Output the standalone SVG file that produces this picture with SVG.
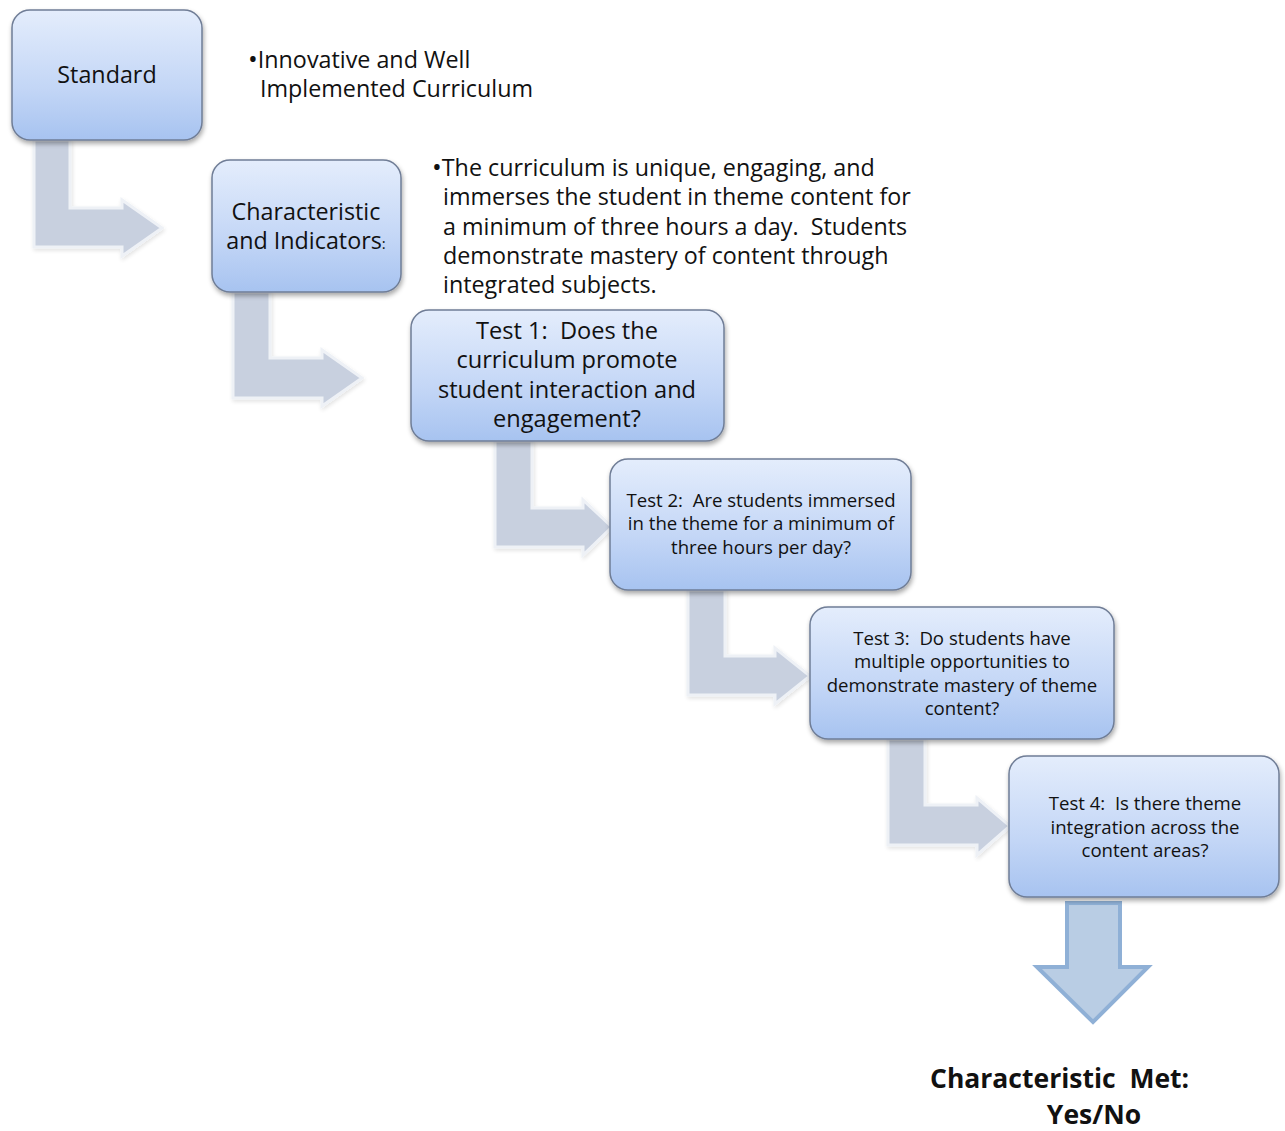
<svg xmlns="http://www.w3.org/2000/svg" width="1285" height="1131" viewBox="0 0 1285 1131">
<defs>
<linearGradient id="g" x1="0" y1="0" x2="0" y2="1">
<stop offset="0" stop-color="#e4edfc"/>
<stop offset="0.6" stop-color="#c3d6f6"/>
<stop offset="1" stop-color="#a7c3f0"/>
</linearGradient>
<filter id="sh" x="-10%" y="-10%" width="125%" height="130%">
<feGaussianBlur in="SourceAlpha" stdDeviation="2.5"/>
<feOffset dx="1" dy="3"/>
<feComponentTransfer><feFuncA type="linear" slope="0.35"/></feComponentTransfer>
<feMerge><feMergeNode/><feMergeNode in="SourceGraphic"/></feMerge>
</filter>
<filter id="ash" x="-10%" y="-10%" width="125%" height="130%">
<feGaussianBlur in="SourceAlpha" stdDeviation="2"/>
<feOffset dx="1" dy="2"/>
<feComponentTransfer><feFuncA type="linear" slope="0.12"/></feComponentTransfer>
<feMerge><feMergeNode/><feMergeNode in="SourceGraphic"/></feMerge>
</filter>
</defs>
<style>
.box{fill:url(#g);stroke:#6f7d96;stroke-width:1.5;filter:url(#sh)}
.arr{fill:#c8d0df;stroke:#eef1f6;stroke-width:3;filter:url(#ash)}
.t{font-family:"Open Sans","Liberation Sans",sans-serif;fill:#111;white-space:pre}
.c{text-anchor:middle}
.m{font-size:23.3px}
.s{font-size:18.6px}
</style>
<rect width="1285" height="1131" fill="#fff"/>
<g id="connectors">
<path class="arr" d="M34,140 H70 V208 H122 V200 L162,228 L122,256 V247 H34 Z"/>
<path class="arr" d="M233,292 H270 V358 H322 V350 L362,378 L322,406 V398 H233 Z"/>
<path class="arr" d="M495,441 H532 V508 H583 V500 L612,527 L583,555 V547 H495 Z"/>
<path class="arr" d="M688,590 H725 V656 H775 V648 L810,676 L775,704 V695 H688 Z"/>
<path class="arr" d="M888,739 H925 V805 H977 V798 L1010,826 L977,855 V845 H888 Z"/>
<path d="M1067,903 H1120 V967 H1148 L1093,1022 L1037,967 H1067 Z" fill="#b9cde4" stroke="#8fb0d6" stroke-width="4" stroke-linejoin="miter"/>
</g>
<g id="standard">
<rect class="box" x="12" y="10" width="190" height="130" rx="18"/>
<text class="t c m" x="107" y="83">Standard</text>
</g>
<g id="standard-text">
<text class="t m" x="248" y="68"><tspan font-size="26">•</tspan>Innovative and Well</text>
<text class="t m" x="260" y="97">Implemented Curriculum</text>
</g>
<g id="characteristic">
<rect class="box" x="212" y="160" width="189" height="132" rx="18"/>
<text class="t c m" x="306" y="220">Characteristic</text>
<text class="t c m" x="306" y="249">and Indicators<tspan font-size="15">:</tspan></text>
</g>
<g id="characteristic-text">
<text class="t m" x="432" y="176"><tspan font-size="26">•</tspan>The curriculum is unique, engaging, and</text>
<text class="t m" x="443" y="205">immerses the student in theme content for</text>
<text class="t m" x="443" y="235">a minimum of three hours a day.  Students</text>
<text class="t m" x="443" y="264">demonstrate mastery of content through</text>
<text class="t m" x="443" y="293">integrated subjects.</text>
</g>
<g id="test1">
<rect class="box" x="411" y="310" width="313" height="131" rx="18"/>
<text class="t c" x="567" y="339" font-size="23.6">Test 1:  Does the</text>
<text class="t c" x="567" y="368" font-size="23.6">curriculum promote</text>
<text class="t c" x="567" y="398" font-size="23.6">student interaction and</text>
<text class="t c" x="567" y="427" font-size="23.6">engagement?</text>
</g>
<g id="test2">
<rect class="box" x="610" y="459" width="301" height="131" rx="18"/>
<text class="t c s" x="761" y="507">Test 2:  Are students immersed</text>
<text class="t c s" x="761" y="530">in the theme for a minimum of</text>
<text class="t c s" x="761" y="554">three hours per day?</text>
</g>
<g id="test3">
<rect class="box" x="810" y="607" width="304" height="132" rx="18"/>
<text class="t c s" x="962" y="645">Test 3:  Do students have</text>
<text class="t c s" x="962" y="668">multiple opportunities to</text>
<text class="t c s" x="962" y="692">demonstrate mastery of theme</text>
<text class="t c s" x="962" y="715">content?</text>
</g>
<g id="test4">
<rect class="box" x="1009" y="756" width="270" height="141" rx="18"/>
<text class="t c s" x="1145" y="810">Test 4:  Is there theme</text>
<text class="t c s" x="1145" y="834">integration across the</text>
<text class="t c s" x="1145" y="857">content areas?</text>
</g>
<g id="result">
<text class="t" x="930" y="1088" font-size="26.5" font-weight="bold">Characteristic  Met:</text>
<text class="t c" x="1094" y="1124" font-size="26.5" font-weight="bold">Yes/No</text>
</g>
</svg>
